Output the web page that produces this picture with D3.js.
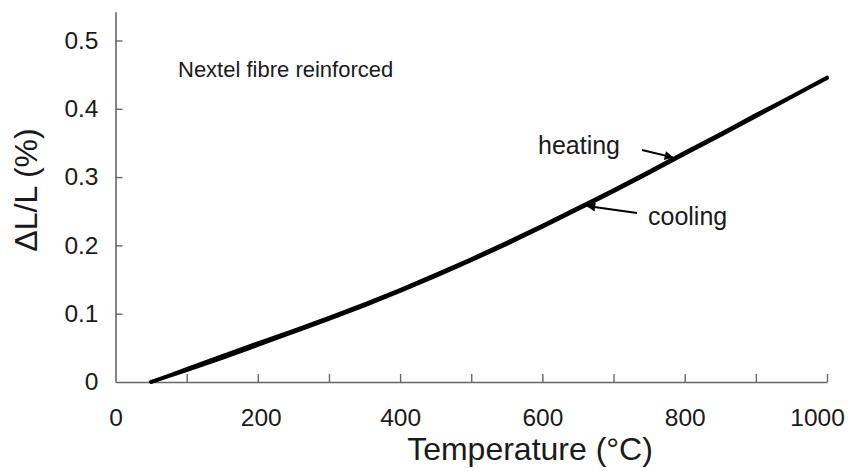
<!DOCTYPE html>
<html>
<head>
<meta charset="utf-8">
<script src="https://cdn.jsdelivr.net/npm/d3@7"></script>
<style>
  html, body { margin: 0; padding: 0; background: #fff; }
  svg { display: block; font-family: "Liberation Sans", Arial, sans-serif; }
</style>
</head>
<body>
<svg id="chart" width="853" height="471"></svg>
<script>
// Thermal expansion of Nextel fibre reinforced composite, heating and cooling runs
const temperatures = [50, 100, 150, 200, 250, 300, 350, 400, 450, 500, 550, 600, 650, 700, 750, 800, 850, 900, 950, 1000];
const heating = [0, 0.019, 0.038, 0.057, 0.075, 0.094, 0.114, 0.135, 0.157, 0.180, 0.204, 0.229, 0.255, 0.281, 0.308, 0.336, 0.363, 0.391, 0.418, 0.446];
const cooling = [0, 0.017, 0.035, 0.054, 0.073, 0.092, 0.112, 0.133, 0.155, 0.178, 0.202, 0.227, 0.253, 0.279, 0.306, 0.334, 0.361, 0.389, 0.417, 0.445];
const xTicks = [0, 100, 200, 300, 400, 500, 600, 700, 800, 900, 1000];
const xTickLabels = ["0", "", "200", "", "400", "", "600", "", "800", "", "1000"];
const yTicks = [0, 0.1, 0.2, 0.3, 0.4, 0.5];
const yTickLabels = ["0", "0.1", "0.2", "0.3", "0.4", "0.5"];
const annotations = [
  { text: "heating", series: "heating", at: 786 },
  { text: "cooling", series: "cooling", at: 660 }
];

const svg = d3.select("#chart");
const x = d3.scaleLinear().domain([0, 1000]).range([115.5, 827]);
const y = d3.scaleLinear().domain([0, 0.5]).range([382, 40.5]);
const yTop = 0.542;

const axisColor = "#666";
const textColor = "#1a1a1a";

// x axis with inward ticks
const gx = svg.append("g").attr("transform", `translate(0,${y(0)})`)
  .call(d3.axisBottom(x).tickValues(xTicks)
    .tickFormat((d, i) => xTickLabels[i])
    .tickSizeInner(-8).tickSizeOuter(0).tickPadding(27));
gx.select(".domain").attr("stroke", axisColor).attr("stroke-width", 1.6);
gx.selectAll(".tick line").attr("stroke", axisColor).attr("stroke-width", 1.4)
  .attr("display", d => d === 0 ? "none" : null);
gx.selectAll(".tick text").attr("fill", textColor).attr("font-size", 24.5)
  .attr("font-family", "Liberation Sans, Arial, sans-serif")
  .attr("dx", d => d === 1000 ? -10 : (d === 200 ? 3 : 0));

// y axis with inward ticks, line extends a little above the last tick
const gy = svg.append("g").attr("transform", `translate(${x(0)},0)`)
  .call(d3.axisLeft(y.copy().domain([0, yTop]).range([382, 382 - (382 - 40.5) * yTop / 0.5]))
    .tickValues(yTicks).tickFormat((d, i) => yTickLabels[i])
    .tickSizeInner(-7).tickSizeOuter(0).tickPadding(17));
gy.select(".domain").attr("stroke", axisColor).attr("stroke-width", 1.6);
gy.selectAll(".tick line").attr("stroke", axisColor).attr("stroke-width", 1.4)
  .attr("display", d => d === 0 ? "none" : null);
gy.selectAll(".tick text").attr("fill", textColor).attr("font-size", 24.5)
  .attr("font-family", "Liberation Sans, Arial, sans-serif");

// expansion curves
const line = d3.line().x(d => x(d[0])).y(d => y(d[1])).curve(d3.curveMonotoneX);
const seriesData = {
  heating: temperatures.map((t, i) => [t, heating[i]]),
  cooling: temperatures.map((t, i) => [t, cooling[i]])
};
Object.values(seriesData).forEach(pts => {
  svg.append("path").datum(pts).attr("d", line)
    .attr("fill", "none").attr("stroke", "#000").attr("stroke-width", 3.6)
    .attr("stroke-linecap", "round");
});

// annotation arrows
svg.append("defs").append("marker")
  .attr("id", "arrow").attr("viewBox", "0 0 10 10").attr("refX", 9).attr("refY", 5)
  .attr("markerWidth", 6).attr("markerHeight", 4.5).attr("orient", "auto")
  .attr("markerUnits", "strokeWidth")
  .append("path").attr("d", "M0,0 L10,5 L0,10 Z").attr("fill", "#000");

function valueAt(series, t) {
  return d3.scaleLinear().domain(temperatures).range(series === "heating" ? heating : cooling)(t);
}

const labelPos = {
  heating: { tx: 538, ty: 154, ax: 642, ay: 150 },
  cooling: { tx: 648, ty: 225, ax: 637, ay: 213 }
};
annotations.forEach(a => {
  const p = labelPos[a.series];
  const tx = x(a.at), ty = y(valueAt(a.series, a.at));
  const dx = tx - p.ax, dy = ty - p.ay, len = Math.hypot(dx, dy);
  svg.append("line")
    .attr("x1", p.ax).attr("y1", p.ay)
    .attr("x2", tx - dx / len * 2).attr("y2", ty - dy / len * 2)
    .attr("stroke", "#000").attr("stroke-width", 2)
    .attr("marker-end", "url(#arrow)");
  svg.append("text").attr("x", p.tx).attr("y", p.ty)
    .attr("font-size", 25).attr("fill", textColor).text(a.text);
});

// panel caption
svg.append("text").attr("x", 178).attr("y", 76.5)
  .attr("font-size", 22).attr("fill", textColor).text("Nextel fibre reinforced");

// axis titles
svg.append("text").attr("x", 530).attr("y", 460).attr("text-anchor", "middle")
  .attr("font-size", 32).attr("fill", textColor).text("Temperature (°C)");
svg.append("text").attr("transform", "translate(37,190) rotate(-90)")
  .attr("text-anchor", "middle").attr("font-size", 32).attr("fill", textColor)
  .text("ΔL/L (%)");
</script>
</body>
</html>
